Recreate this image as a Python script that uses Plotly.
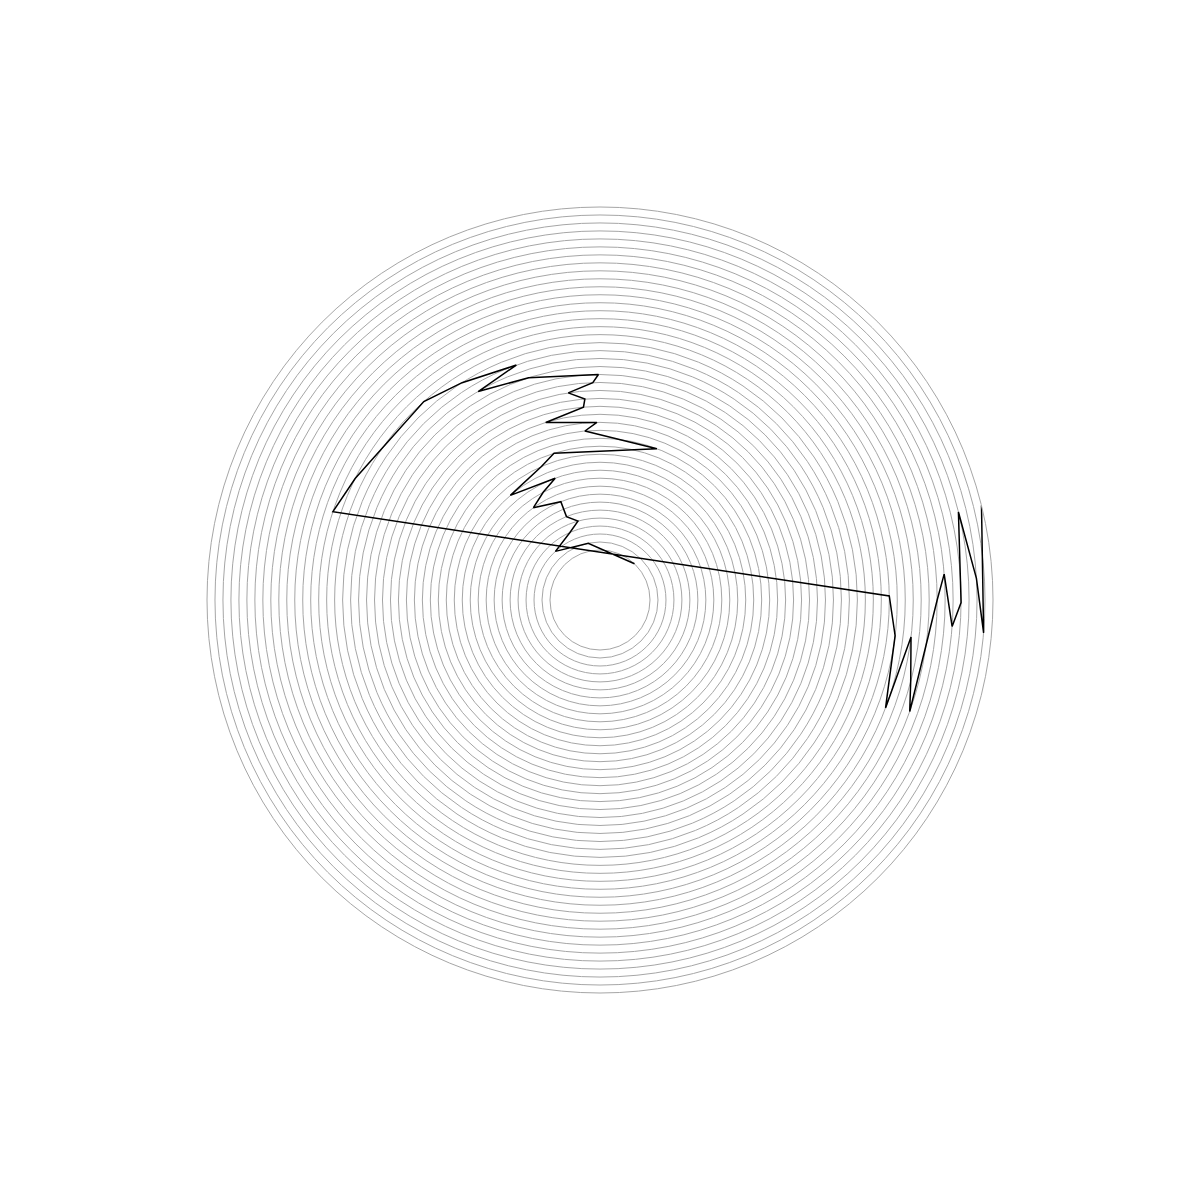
import plotly.graph_objects as go

# radial values (step index) and angular values (degrees)
r_values = list(range(44))
theta_values = [
    46.4, 101.7, 132.5, 114.0, 105.6, 111.9, 111.8, 111.7, 125.8, 117.8,
    110.2, 130.6, 113.7, 107.4, 69.4, 95.1, 91.0, 107.0, 94.9, 94.3,
    98.7, 91.9, 90.4, 107.8, 120.3, 109.6, 122.4, 131.6, 153.6, 161.7,
    0.8, -6.9, -20.7, -6.8, -14.7, -19.8, 0.0, 4.3, -4.3, -0.4,
    13.8, 3.3, -4.9, 13.9,
]
radial_ticks = list(range(44))

fig = go.Figure(
    go.Scatterpolar(
        r=r_values,
        theta=theta_values,
        mode="lines",
        line=dict(color="black", width=1.5),
        cliponaxis=False,
        showlegend=False,
    )
)

grid = "#a6a6a6"
fig.update_layout(
    width=1200,
    height=1200,
    margin=dict(l=207, r=207, t=207, b=207),
    paper_bgcolor="white",
    plot_bgcolor="white",
    polar=dict(
        bgcolor="white",
        radialaxis=dict(
            range=[-6.27, 43],
            tickmode="array",
            tickvals=radial_ticks,
            showticklabels=False,
            ticks="",
            showline=False,
            gridcolor=grid,
            gridwidth=1,
        ),
        angularaxis=dict(
            showgrid=False,
            showticklabels=False,
            ticks="",
            showline=True,
            linecolor=grid,
            linewidth=1,
        ),
    ),
)

fig.write_html("out.html")
